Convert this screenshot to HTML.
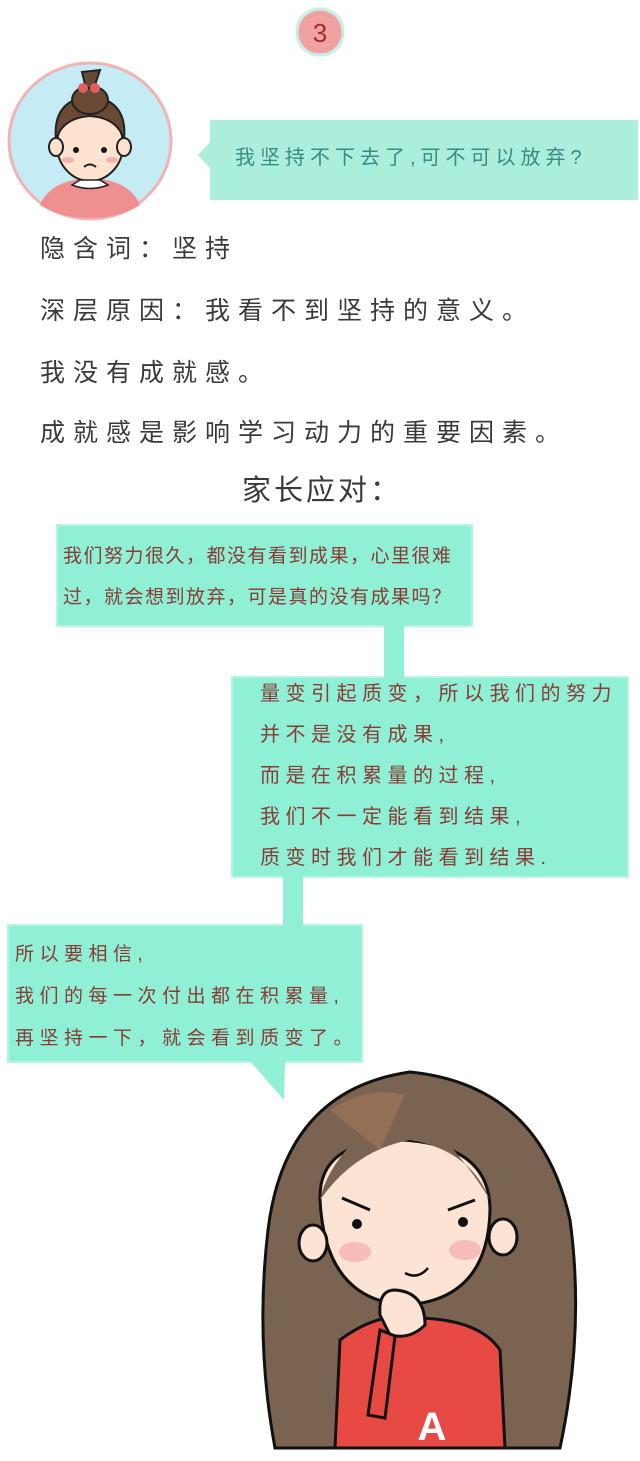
<!DOCTYPE html>
<html><head><meta charset="utf-8"><style>
body{margin:0;background:#fff;}
svg{display:block}
.t{font-family:"Liberation Sans","WenQuanYi Zen Hei","Noto Sans CJK SC",sans-serif;}
</style></head><body>
<svg width="640" height="1461" viewBox="0 0 640 1461" xmlns="http://www.w3.org/2000/svg">
<circle cx="320" cy="32" r="23" fill="#f1a1a0" stroke="#c9ece6" stroke-width="3"/>
<text class="t" x="320" y="42" font-size="26" fill="#9a3030" text-anchor="middle">3</text>
<ellipse cx="90" cy="141" rx="81" ry="78" fill="#c5ebf4" stroke="#f0b4b4" stroke-width="3"/>
<g>
<path d="M40 205 Q50 180 90 178 Q130 180 140 205 Q120 218 90 218 Q60 218 40 205Z" fill="#ef8f8f"/>
<ellipse cx="90" cy="145" rx="33" ry="36" fill="#fde2cf" stroke="#222" stroke-width="2"/>
<path d="M56 140 Q52 100 90 96 Q128 100 124 140 Q118 118 90 116 Q62 118 56 140Z" fill="#6b4a35" stroke="#222" stroke-width="2"/>
<ellipse cx="90" cy="100" rx="18" ry="14" fill="#6b4a35" stroke="#222" stroke-width="2"/>
<path d="M86 88 L82 72 L100 70 L94 88Z" fill="#6b4a35" stroke="#222" stroke-width="2"/>
<circle cx="83" cy="88" r="5" fill="#e06060"/><circle cx="95" cy="88" r="5" fill="#e06060"/>
<ellipse cx="56" cy="147" rx="7" ry="9" fill="#fde2cf" stroke="#222" stroke-width="2"/>
<ellipse cx="124" cy="147" rx="7" ry="9" fill="#fde2cf" stroke="#222" stroke-width="2"/>
<circle cx="76" cy="150" r="3" fill="#111"/><circle cx="104" cy="150" r="3" fill="#111"/>
<ellipse cx="68" cy="160" rx="6" ry="3" fill="#f5b0b0"/><ellipse cx="112" cy="160" rx="6" ry="3" fill="#f5b0b0"/>
<path d="M84 167 Q90 162 96 167" fill="none" stroke="#222" stroke-width="2"/>
<path d="M72 185 Q90 192 108 185 L100 180 L80 180Z" fill="#fff" stroke="#222" stroke-width="1.5"/>
</g>
<path d="M210 120 L638 120 L638 200 L210 200 L210 168 L198 155 L210 142Z" fill="#abeedb"/>
<text class="t" x="235" y="164" font-size="20" letter-spacing="5" fill="#3b8a83">我坚持不下去了,可不可以放弃?</text>
<g class="t" fill="#3a3a3a" font-size="25" letter-spacing="8">
<text x="40" y="257">隐含词：坚持</text>
<text x="40" y="319">深层原因：我看不到坚持的意义。</text>
<text x="40" y="381">我没有成就感。</text>
<text x="40" y="441">成就感是影响学习动力的重要因素。</text>
<text x="242" y="500" font-size="29" letter-spacing="3">家长应对：</text>
</g>
<g fill="#8ff0d5" stroke="#b9f3e4" stroke-width="2">
<rect x="57" y="525" width="415" height="101"/>
<rect x="232" y="677" width="396" height="200"/>
<rect x="8" y="925" width="354" height="137"/>
</g>
<rect x="384" y="625" width="20" height="53" fill="#8ff0d5"/>
<rect x="283" y="876" width="20" height="50" fill="#8ff0d5"/>
<path d="M250 1061 L285 1061 L284 1100Z" fill="#8ff0d5"/>
<g class="t" fill="#8a3b35" font-size="19">
<text x="63" y="562" letter-spacing="1.5">我们努力很久，都没有看到成果，心里很难</text>
<text x="63" y="603" letter-spacing="1.5">过，就会想到放弃，可是真的没有成果吗？</text>
<g font-size="20" letter-spacing="5.5">
<text x="260" y="700">量变引起质变，所以我们的努力</text>
<text x="260" y="741">并不是没有成果,</text>
<text x="260" y="782">而是在积累量的过程,</text>
<text x="260" y="823">我们不一定能看到结果,</text>
<text x="260" y="864">质变时我们才能看到结果.</text>
</g>
<g letter-spacing="5.5">
<text x="15" y="960">所以要相信,</text>
<text x="15" y="1002">我们的每一次付出都在积累量,</text>
<text x="15" y="1044">再坚持一下，就会看到质变了。</text>
</g>
</g>
<g stroke="#111" stroke-width="3">
<path d="M275 1448 Q255 1340 268 1230 Q285 1090 410 1072 Q540 1085 570 1220 Q585 1330 560 1448Z" fill="#7b6352"/>
<path d="M335 1448 L340 1340 Q380 1310 420 1318 Q480 1320 500 1350 L505 1448Z" fill="#e64a43"/>
<path d="M320 1200 Q318 1140 402 1140 Q490 1145 490 1210 Q488 1300 405 1305 Q325 1300 320 1200Z" fill="#fde3d3"/>
<ellipse cx="313" cy="1243" rx="14" ry="18" fill="#fde3d3"/>
<ellipse cx="503" cy="1237" rx="14" ry="18" fill="#fde3d3"/>
<path d="M320 1200 Q330 1150 405 1100 Q460 1150 490 1200 Q470 1150 410 1140 Q355 1150 320 1200Z" fill="#7b6352" stroke="none"/>
<path d="M380 1315 Q378 1290 395 1290 Q425 1292 425 1325 Q410 1340 390 1335Z" fill="#fde3d3"/>
<path d="M380 1330 L368 1415 L385 1418 L395 1336Z" fill="#e64a43"/>
</g>
<path d="M330 1110 Q370 1085 405 1095 L380 1150Z" fill="#a3785a" opacity=".6"/>
<circle cx="357" cy="1224" r="5" fill="#111"/><circle cx="463" cy="1222" r="5" fill="#111"/>
<ellipse cx="355" cy="1252" rx="16" ry="10" fill="#f4a9ad" opacity=".7"/>
<ellipse cx="465" cy="1250" rx="16" ry="10" fill="#f4a9ad" opacity=".7"/>
<path d="M405 1273 Q418 1280 428 1268" fill="none" stroke="#111" stroke-width="2.5"/>
<path d="M342 1198 L370 1210 M475 1200 L448 1210" stroke="#111" stroke-width="3"/>
<text class="t" x="432" y="1440" font-size="40" font-weight="bold" fill="#fff" text-anchor="middle">A</text>
</svg>
</body></html>
